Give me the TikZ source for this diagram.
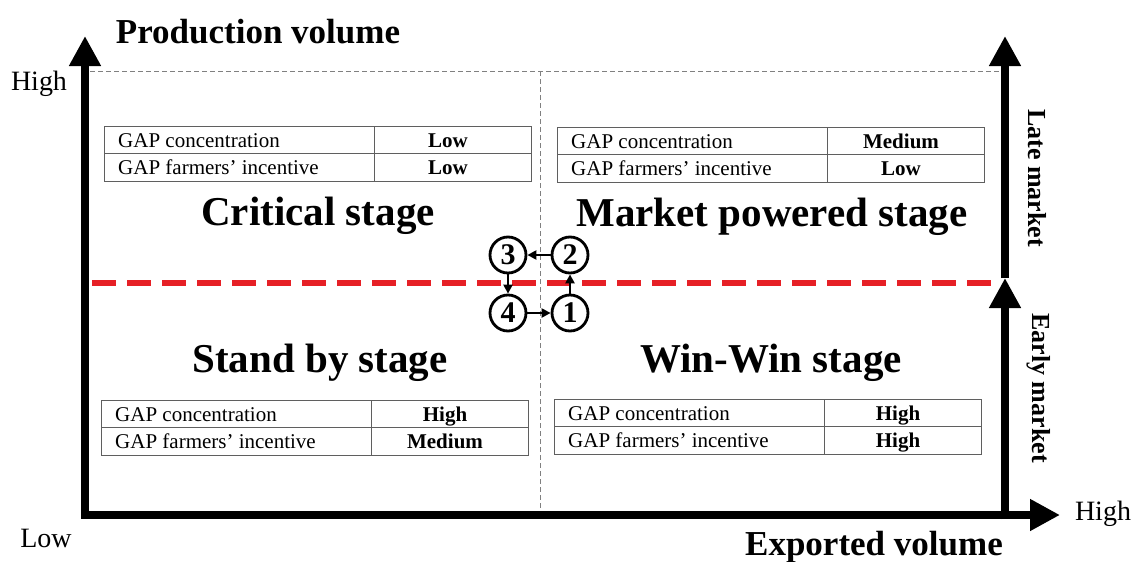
\documentclass[tikz,border=0pt]{standalone}
\usepackage{fontspec}
\setmainfont{Liberation Serif}
\usetikzlibrary{arrows.meta}

\definecolor{dashred}{RGB}{230,32,38}
\definecolor{rulegray}{RGB}{95,95,95}

\tikzset{
  axis/.style={line width=8pt, line join=miter},
  bigtip/.tip={Triangle[length=30pt,width=30pt]},
  smalltip/.tip={Triangle[length=9pt,width=9pt]},
  guide/.style={line width=0.8pt, gray, dash pattern=on 5pt off 3pt},
  divider/.style={line width=6pt, dashred, dash pattern=on 24pt off 11pt},
  stage/.style={font=\fontsize{41}{44}\selectfont\bfseries, inner sep=0pt, anchor=base},
  axislabel/.style={font=\fontsize{35}{38}\selectfont\bfseries, inner sep=0pt},
  endlabel/.style={font=\fontsize{28}{30}\selectfont, inner sep=0pt},
  marketlabel/.style={font=\fontsize{26}{28}\selectfont\bfseries, inner sep=0pt, rotate=-90},
  tbl/.style={draw=rulegray, line width=1pt},
  cell/.style={font=\fontsize{21}{23}\selectfont, inner sep=0pt, anchor=base west},
  valcell/.style={font=\fontsize{21}{23}\selectfont\bfseries, inner sep=0pt, anchor=base},
  num/.style={circle, draw, line width=2.8pt, minimum size=36pt, inner sep=0pt,
              font=\fontsize{30}{30}\selectfont\bfseries},
  flow/.style={line width=2.8pt, -{smalltip}},
}

% GAP table: name, left x, top y, concentration value, incentive value
\newcommand\gaptable[5]{%
  \begin{scope}[shift={(#2,#3)}]
    \draw[tbl] (0,0) rectangle (427,55);
    \draw[tbl] (0,27.5) -- (427,27.5);
    \draw[tbl] (270,0) -- (270,55);
    \node[cell] (#1-k1) at (14,21) {GAP concentration};
    \node[cell] (#1-k2) at (14,48) {GAP farmers’ incentive};
    \node[valcell] (#1-v1) at (344,21) {#4};
    \node[valcell] (#1-v2) at (344,48) {#5};
  \end{scope}}

\begin{document}
\begin{tikzpicture}[x=1pt,y=-1pt]
\useasboundingbox (0,0) rectangle (1133,562);

% axes
\coordinate (ytop) at (85,36);
\coordinate (corner) at (85,515);
\coordinate (xend) at (1060,515);
\coordinate (rbase) at (1005,519);
\coordinate (rmid) at (1005,278);
\coordinate (rtop) at (1005,36);

% guide lines
\coordinate (gl) at (90,71);
\coordinate (gr) at (1005,71);
\coordinate (vt) at (540,71);
\coordinate (vb) at (540,508);
\draw[guide] (gl) -- (gr);
\draw[guide] (vt) -- (vb);

% market split
\coordinate (redl) at (92,283);
\coordinate (redr) at (1000,283);
\draw[divider] (redl) -- (redr);

\draw[axis, {bigtip}-{bigtip}] (ytop) -- (corner) -- (xend);
\draw[axis, -{bigtip}] (rbase) -- (rmid);
\draw[axis, -{bigtip}] (rmid) -- (rtop);

% axis labels
\node[axislabel] (yl) at (258,32) {Production volume};
\node[axislabel] (xl) at (874,547) {Exported volume};
\node[endlabel] (yhigh) at (39,84) {High};
\node[endlabel] (low) at (46,538) {Low};
\node[endlabel] (xhigh) at (1103,514) {High};
\node[marketlabel] (late) at (1037,178) {Late market};
\node[marketlabel] (early) at (1039,388) {Early market};

% tables
\gaptable{tl}{104}{126}{Low}{Low}
\gaptable{tr}{557}{127}{Medium}{Low}
\gaptable{bl}{101}{400}{High}{Medium}
\gaptable{br}{554}{399}{High}{High}

% stage names
\node[stage] (crit) at (318,225) {Critical stage};
\node[stage] (market) at (772,226) {Market powered stage};
\node[stage] (standby) at (320,372) {Stand by stage};
\node[stage] (winwin) at (771,372) {Win-Win stage};

% cycle
\node[num] (c3) at (508,255) {3};
\node[num] (c2) at (570,255) {2};
\node[num] (c4) at (508,313) {4};
\node[num] (c1) at (570,313) {1};
\draw[flow] (c4) -- (c1);
\draw[flow] (c1) -- (c2);
\draw[flow] (c2) -- (c3);
\draw[flow] (c3) -- (c4);
\end{tikzpicture}
\end{document}
